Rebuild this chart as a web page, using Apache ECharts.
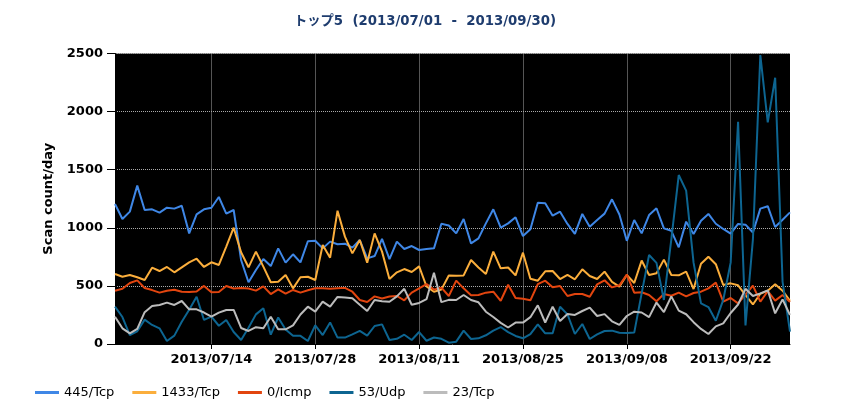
<!DOCTYPE html>
<html>
<head>
<meta charset="utf-8">
<script src="https://cdn.jsdelivr.net/npm/echarts@6/dist/echarts.min.js"></script>
<style>
  html, body { margin: 0; padding: 0; background: #fff; }
  #chart { width: 850px; height: 420px; }
</style>
</head>
<body>
<div id="chart"></div>
<script>
// 日付 (2013/07/01 - 2013/09/30)
var dates = [];
(function () {
    var d = new Date(2013, 6, 1);
    var end = new Date(2013, 8, 30);
    while (d <= end) {
        var m = ('0' + (d.getMonth() + 1)).slice(-2);
        var dd = ('0' + d.getDate()).slice(-2);
        dates.push('2013/' + m + '/' + dd);
        d.setDate(d.getDate() + 1);
    }
})();

var seriesNames = ['445/Tcp', '1433/Tcp', '0/Icmp', '53/Udp', '23/Tcp'];

var tcp445 = [1205,1076,1139,1363,1153,1159,1130,1173,1165,1190,952,1116,1159,1173,1265,1122,1153,723,531,637,
    731,671,823,700,772,703,884,889,823,881,858,863,829,895,737,757,904,731,881,818,
    843,809,818,823,1035,1020,952,1076,866,909,1038,1159,1001,1038,1090,929,987,1216,1211,1104,
    1139,1033,947,1119,1010,1067,1122,1245,1115,888,1067,952,1110,1168,995,974,832,1053,947,1060,
    1119,1035,990,950,1033,1027,960,1165,1186,1007,1070,1133];

var tcp1433 = [602,579,594,574,551,657,628,663,617,660,703,734,663,703,680,838,1001,789,660,795,
    666,531,536,594,479,574,579,551,852,743,1147,924,780,895,700,952,795,559,617,645,
    620,668,495,450,468,590,588,590,723,658,602,795,651,658,591,786,562,545,626,628,
    559,594,557,643,585,559,623,535,494,594,525,718,594,608,726,594,591,622,473,691,
    751,687,508,522,505,420,340,432,459,515,459,372];

var icmp0 = [459,476,525,548,482,464,442,459,467,450,448,452,500,445,448,499,478,482,478,459,
    496,430,470,433,465,442,462,479,479,476,480,483,450,379,362,410,392,408,413,376,
    442,479,515,468,485,413,545,479,419,422,442,450,372,510,396,389,376,515,545,488,
    499,413,430,430,407,513,548,487,505,597,442,445,422,368,430,415,442,410,439,450,
    479,528,364,396,350,425,503,364,455,373,422,362];

var udp53 = [321,232,77,109,210,164,135,26,72,192,295,407,207,235,157,207,103,34,140,255,
    307,80,228,125,70,70,26,161,77,186,55,55,83,113,72,155,169,34,45,80,
    34,103,28,56,45,11,20,115,43,49,75,115,146,102,69,49,85,169,92,92,
    321,255,86,172,43,83,112,115,97,94,98,436,766,698,379,900,1454,1320,700,350,
    318,200,379,700,1913,160,900,2487,1908,2292,535,106];

var tcp23 = [235,135,92,130,274,327,336,356,336,370,298,298,271,235,270,293,293,138,112,145,
    135,235,126,126,160,254,321,278,364,321,405,400,393,338,284,379,368,364,410,475,
    338,353,386,614,360,380,379,422,379,359,278,232,182,142,184,184,231,333,185,321,
    198,258,250,284,313,241,257,195,164,241,278,271,231,357,275,410,287,256,188,130,
    86,152,178,267,340,475,413,436,462,264,384,250];

var colors = ['#3f87e6', '#fbae3c', '#e2450f', '#0d6591', '#bcbcbc'];

// 2013/07/14 から 14日ごとに目盛
function every14(index) {
    return index >= 13 && (index - 13) % 14 === 0;
}

var myChart = echarts.init(document.getElementById('chart'));

var seriesData = [tcp445, tcp1433, icmp0, udp53, tcp23];
var series = [];
for (var i = 0; i < seriesNames.length; i++) {
    series.push({
        name: seriesNames[i],
        type: 'line',
        data: seriesData[i],
        symbol: 'none',
        lineStyle: { width: 2 }
    });
}

var option = {
    animation: false,
    color: colors,
    textStyle: { fontFamily: 'DejaVu Sans, "Noto Sans CJK JP", sans-serif' },
    title: {
        text: 'トップ5  (2013/07/01  -  2013/09/30)',
        left: 'center',
        top: 15,
        padding: 0,
        textStyle: {
            color: '#1e3c6e',
            fontSize: 13.3,
            fontWeight: 'bold',
            fontFamily: 'DejaVu Sans, "Noto Sans CJK JP", sans-serif'
        }
    },
    legend: {
        data: seriesNames,
        left: 35,
        top: 386,
        padding: 0,
        icon: 'rect',
        itemWidth: 24,
        itemHeight: 3,
        itemGap: 18,
        textStyle: { color: '#000', fontSize: 13 }
    },
    grid: {
        left: 115,
        right: 60,
        top: 53.5,
        bottom: 76,
        show: true,
        backgroundColor: '#000',
        borderWidth: 0,
        containLabel: false
    },
    xAxis: {
        type: 'category',
        data: dates,
        boundaryGap: false,
        axisLine: { show: true, lineStyle: { color: '#000' } },
        axisTick: {
            show: true,
            interval: every14,
            length: 5,
            lineStyle: { color: '#000' }
        },
        axisLabel: {
            interval: every14,
            margin: 9,
            color: '#000',
            fontSize: 13,
            fontWeight: 'bold'
        },
        splitLine: {
            show: true,
            interval: every14,
            lineStyle: { color: '#aaa', type: 'dotted', width: 1 }
        }
    },
    yAxis: {
        type: 'value',
        min: 0,
        max: 2500,
        interval: 500,
        name: 'Scan count/day',
        nameLocation: 'middle',
        nameGap: 60,
        nameTextStyle: { color: '#000', fontSize: 13, fontWeight: 'bold' },
        axisLine: { show: true, lineStyle: { color: '#000' } },
        axisTick: { show: true, length: 8, lineStyle: { color: '#000' } },
        axisLabel: {
            margin: 12,
            color: '#000',
            fontSize: 13,
            fontWeight: 'bold',
            formatter: function (v) { return String(v); }
        },
        splitLine: {
            show: true,
            lineStyle: { color: '#aaa', type: 'dotted', width: 1 }
        }
    },
    series: series
};

myChart.setOption(option);
</script>
</body>
</html>
